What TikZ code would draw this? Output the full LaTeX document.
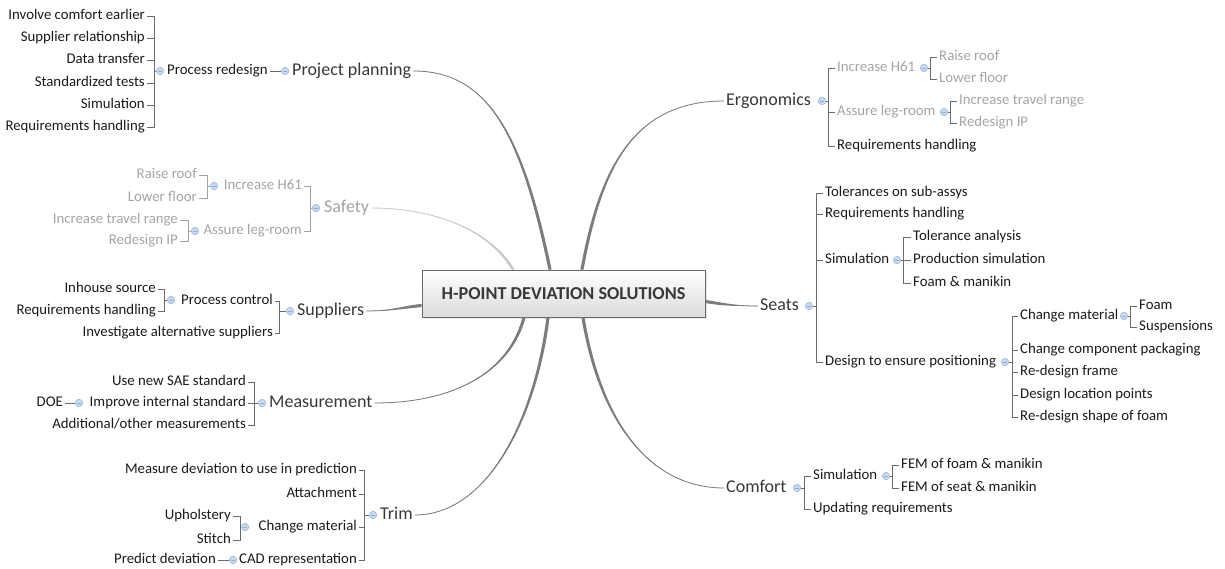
\documentclass[tikz,border=0pt]{standalone}
\usepackage{fontspec}
\setmainfont{Carlito}
\usetikzlibrary{calc,shadows}
\definecolor{ink}{HTML}{1A1A1A}
\definecolor{topicink}{HTML}{383838}
\definecolor{greyink}{HTML}{A4A4A4}
\definecolor{stem}{HTML}{7C7C7C}
\definecolor{stemgrey}{HTML}{C8C8C8}
\definecolor{brkline}{HTML}{6A6A6A}
\definecolor{foldfill}{HTML}{CADAEE}
\definecolor{foldline}{HTML}{93AED3}
\def\branch[#1](#2)(#3)(#4)(#5)(#6){\fill[#1] ($(#2)+(#6)$) .. controls +(#3) and +(#4) .. (#5) .. controls +(#4) and +(#3) .. ($(#2)-(#6)$) -- cycle; \draw[#1, line width=0.8] (#2) .. controls +(#3) and +(#4) .. (#5);}
\tikzset{
	leaf/.style={font=\fontsize{14.8}{17}\selectfont, text=ink, inner sep=2pt, text height=10pt, text depth=3.5pt},
	topic/.style={font=\fontsize{18}{21}\selectfont, text=topicink, inner sep=2pt, text height=13pt, text depth=4.5pt},
	greyed/.style={text=greyink},
	fold/.style={circle, minimum size=7.5pt, inner sep=0pt, fill=foldfill, draw=foldline, line width=0.5pt,
		path picture={\draw[foldline, line width=0.7pt] ([xshift=1.5pt]path picture bounding box.west) -- ([xshift=-1.5pt]path picture bounding box.east);}},
	brk/.style={draw=brkline, line width=0.9pt},
	brkgrey/.style={draw=greyink, line width=0.9pt},
	hubbox/.style={rectangle, minimum width=283pt, minimum height=47pt, draw=brkline, line width=1pt, top color=white, bottom color=black!14,
		font=\bfseries\fontsize{18.2}{20}\selectfont, text=topicink, drop shadow={opacity=0.2, shadow xshift=1.5pt, shadow yshift=-1.5pt}}
}

\begin{document}
\begin{tikzpicture}[x=1pt, y=-1pt]
		%%%%% START %%%%%
		\useasboundingbox (0,0) rectangle (1225,569);
		
		\node[hubbox] (hub) at (563.5,293.5) {H-POINT DEVIATION SOLUTIONS};
		
		% project planning
		\node[topic, anchor=west] (pp) at (290,71) {Project planning};
		\node[fold] (pp-m) at (285,71) {};
		\node[leaf, anchor=west] (pr) at (165,71) {Process redesign};
		\node[fold] (pr-m) at (160,71) {};
		\coordinate (pr-j) at (154,71);
		\node[leaf, anchor=east] (pr1) at (147,16) {Involve comfort earlier};
		\node[leaf, anchor=east] (pr2) at (147,38) {Supplier relationship};
		\node[leaf, anchor=east] (pr3) at (147,60) {Data transfer};
		\node[leaf, anchor=east] (pr4) at (147,83) {Standardized tests};
		\node[leaf, anchor=east] (pr5) at (147,105) {Simulation};
		\node[leaf, anchor=east] (pr6) at (147,127) {Requirements handling};
		\draw[brk] (pr1.east) -| (pr-j) (pr2.east) -| (pr-j) (pr3.east) -| (pr-j) (pr4.east) -| (pr-j) (pr5.east) -| (pr-j) (pr6.east) -| (pr-j);
		\draw[brk] (pr-j) -- (pr-m);
		\draw[brk] (pr.east) -- (pp-m);
		
		% safety
		\node[topic, greyed, anchor=west] (sf) at (322,208) {Safety};
		\node[fold] (sf-m) at (316,208) {};
		\coordinate (sf-j) at (310,208);
		\node[leaf, greyed, anchor=east] (sf1) at (304,186) {Increase H61};
		\node[leaf, greyed, anchor=east] (sf2) at (304,231) {Assure leg-room};
		\node[fold] (sh-m) at (214,186) {};
		\coordinate (sh-j) at (207,186);
		\node[leaf, greyed, anchor=east] (sh1) at (199,175) {Raise roof};
		\node[leaf, greyed, anchor=east] (sh2) at (199,198) {Lower floor};
		\node[fold] (sl-m) at (195,231) {};
		\coordinate (sl-j) at (188,231);
		\node[leaf, greyed, anchor=east] (sl1) at (180,220) {Increase travel range};
		\node[leaf, greyed, anchor=east] (sl2) at (180,241) {Redesign IP};
		\draw[brkgrey] (sf1.east) -| (sf-j) (sf2.east) -| (sf-j);
		\draw[brkgrey] (sf-j) -- (sf-m);
		\draw[brkgrey] (sh1.east) -| (sh-j) (sh2.east) -| (sh-j);
		\draw[brkgrey] (sh-j) -- (sh-m);
		\draw[brkgrey] (sl1.east) -| (sl-j) (sl2.east) -| (sl-j);
		\draw[brkgrey] (sl-j) -- (sl-m);
		
		% suppliers
		\node[topic, anchor=west] (sp) at (295,311) {Suppliers};
		\node[fold] (sp-m) at (290,311) {};
		\coordinate (sp-j) at (279,311);
		\node[leaf, anchor=east] (sp1) at (275,301) {Process control};
		\node[leaf, anchor=east] (sp2) at (275,333) {Investigate alternative suppliers};
		\node[fold] (pc-m) at (171,300) {};
		\coordinate (pc-j) at (164,300);
		\node[leaf, anchor=east] (pc1) at (158,289) {Inhouse source};
		\node[leaf, anchor=east] (pc2) at (158,311) {Requirements handling};
		\draw[brk] (sp1.east) -| (sp-j) (sp2.east) -| (sp-j);
		\draw[brk] (sp-j) -- (sp-m);
		\draw[brk] (pc1.east) -| (pc-j) (pc2.east) -| (pc-j);
		\draw[brk] (pc-j) -- (pc-m);
		
		% measurement
		\node[topic, anchor=west] (ms) at (267,403) {Measurement};
		\node[fold] (ms-m) at (262,403) {};
		\coordinate (ms-j) at (254,403);
		\node[leaf, anchor=east] (ms1) at (248,382) {Use new SAE standard};
		\node[leaf, anchor=east] (ms2) at (248,403) {Improve internal standard};
		\node[leaf, anchor=east] (ms3) at (248,425) {Additional/other measurements};
		\node[fold] (is-m) at (79,403) {};
		\node[leaf, anchor=east] (doe) at (65,403) {DOE};
		\draw[brk] (ms1.east) -| (ms-j) (ms2.east) -| (ms-j) (ms3.east) -| (ms-j);
		\draw[brk] (ms-j) -- (ms-m);
		\draw[brk] (doe.east) -- (is-m);
		
		% trim
		\node[topic, anchor=west] (tr) at (378,515) {Trim};
		\node[fold] (tr-m) at (373,515) {};
		\coordinate (tr-j) at (364,515);
		\node[leaf, anchor=east] (tr1) at (359,470) {Measure deviation to use in prediction};
		\node[leaf, anchor=east] (tr2) at (359,494) {Attachment};
		\node[leaf, anchor=east] (tr3) at (359,527) {Change material};
		\node[leaf, anchor=east] (tr4) at (359,560) {CAD representation};
		\node[fold] (tm-m) at (245,527) {};
		\coordinate (tm-j) at (240,527);
		\node[leaf, anchor=east] (tm1) at (233,516) {Upholstery};
		\node[leaf, anchor=east] (tm2) at (233,540) {Stitch};
		\node[fold] (cad-m) at (233,560) {};
		\node[leaf, anchor=east] (pd) at (218,560) {Predict deviation};
		\draw[brk] (tr1.east) -| (tr-j) (tr2.east) -| (tr-j) (tr3.east) -| (tr-j) (tr4.east) -| (tr-j);
		\draw[brk] (tr-j) -- (tr-m);
		\draw[brk] (tm1.east) -| (tm-j) (tm2.east) -| (tm-j);
		\draw[brk] (tm-j) -- (tm-m);
		\draw[brk] (pd.east) -- (cad-m);
		
		% ergonomics
		\node[topic, anchor=west] (er) at (724,101) {Ergonomics};
		\node[fold] (er-m) at (822,101) {};
		\coordinate (er-j) at (828,101);
		\node[leaf, greyed, anchor=west] (er1) at (835,68) {Increase H61};
		\node[leaf, greyed, anchor=west] (er2) at (835,112) {Assure leg-room};
		\node[leaf, anchor=west] (er3) at (835,146) {Requirements handling};
		\node[fold] (eh-m) at (924,68) {};
		\coordinate (eh-j) at (930,68);
		\node[leaf, greyed, anchor=west] (eh1) at (937,57) {Raise roof};
		\node[leaf, greyed, anchor=west] (eh2) at (937,79) {Lower floor};
		\node[fold] (el-m) at (944,112) {};
		\coordinate (el-j) at (950,112);
		\node[leaf, greyed, anchor=west] (el1) at (957,101) {Increase travel range};
		\node[leaf, greyed, anchor=west] (el2) at (957,123) {Redesign IP};
		\draw[brk] (er-m) -- (er-j);
		\draw[brk] (er-j) |- (er1.west) (er-j) |- (er2.west) (er-j) |- (er3.west);
		\draw[brk] (eh-m) -- (eh-j);
		\draw[brk] (eh-j) |- (eh1.west) (eh-j) |- (eh2.west);
		\draw[brk] (el-m) -- (el-j);
		\draw[brk] (el-j) |- (el1.west) (el-j) |- (el2.west);
		
		% seats
		\node[topic, anchor=west] (st) at (758,306) {Seats};
		\node[fold] (st-m) at (809,306) {};
		\coordinate (st-j) at (816,306);
		\node[leaf, anchor=west] (st1) at (823,193) {Tolerances on sub-assys};
		\node[leaf, anchor=west] (st2) at (823,214) {Requirements handling};
		\node[leaf, anchor=west] (st3) at (823,260) {Simulation};
		\node[leaf, anchor=west] (st4) at (823,362) {Design to ensure positioning};
		\node[fold] (ss-m) at (897,260) {};
		\coordinate (ss-j) at (903,260);
		\node[leaf, anchor=west] (ss1) at (911,237) {Tolerance analysis};
		\node[leaf, anchor=west] (ss2) at (911,260) {Production simulation};
		\node[leaf, anchor=west] (ss3) at (911,283) {Foam \& manikin};
		\node[fold] (dp-m) at (1005,362) {};
		\coordinate (dp-j) at (1012,362);
		\node[leaf, anchor=west] (dp1) at (1018,316) {Change material};
		\node[leaf, anchor=west] (dp2) at (1018,350) {Change component packaging};
		\node[leaf, anchor=west] (dp3) at (1018,372) {Re-design frame};
		\node[leaf, anchor=west] (dp4) at (1018,395) {Design location points};
		\node[leaf, anchor=west] (dp5) at (1018,417) {Re-design shape of foam};
		\node[fold] (cm-m) at (1124,316) {};
		\coordinate (cm-j) at (1130,316);
		\node[leaf, anchor=west] (cm1) at (1137,306) {Foam};
		\node[leaf, anchor=west] (cm2) at (1137,327) {Suspensions};
		\draw[brk] (st-m) -- (st-j);
		\draw[brk] (st-j) |- (st1.west) (st-j) |- (st2.west) (st-j) |- (st3.west) (st-j) |- (st4.west);
		\draw[brk] (ss-m) -- (ss-j);
		\draw[brk] (ss-j) |- (ss1.west) (ss-j) |- (ss2.west) (ss-j) |- (ss3.west);
		\draw[brk] (dp-m) -- (dp-j);
		\draw[brk] (dp-j) |- (dp1.west) (dp-j) |- (dp2.west) (dp-j) |- (dp3.west) (dp-j) |- (dp4.west) (dp-j) |- (dp5.west);
		\draw[brk] (cm-m) -- (cm-j);
		\draw[brk] (cm-j) |- (cm1.west) (cm-j) |- (cm2.west);
		
		% comfort
		\node[topic, anchor=west] (cf) at (724,488) {Comfort};
		\node[fold] (cf-m) at (797,488) {};
		\coordinate (cf-j) at (804,488);
		\node[leaf, anchor=west] (cf1) at (811,476) {Simulation};
		\node[leaf, anchor=west] (cf2) at (811,509) {Updating requirements};
		\node[fold] (cs-m) at (886,476) {};
		\coordinate (cs-j) at (892,476);
		\node[leaf, anchor=west] (cs1) at (899,465) {FEM of foam \& manikin};
		\node[leaf, anchor=west] (cs2) at (899,488) {FEM of seat \& manikin};
		\draw[brk] (cf-m) -- (cf-j);
		\draw[brk] (cf-j) |- (cf1.west) (cf-j) |- (cf2.west);
		\draw[brk] (cs-m) -- (cs-j);
		\draw[brk] (cs-j) |- (cs1.west) (cs-j) |- (cs2.west);
		
		% branches from the hub
		\coordinate (pp-s) at ($(hub.north)+(-13.5,0)$);
		\coordinate (sf-s) at ($(hub.north)+(-50.5,0)$);
		\coordinate (er-s) at ($(hub.north)+(18.5,0)$);
		\coordinate (sp-s) at ($(hub.west)+(0,12)$);
		\coordinate (st-s) at ($(hub.east)+(0,8)$);
		\coordinate (ms-s) at ($(hub.south)+(-39.5,0)$);
		\coordinate (tr-s) at ($(hub.south)+(-15.5,0)$);
		\coordinate (cf-s) at ($(hub.south)+(19.5,0)$);
		\branch[stem](pp-s)(-28,-135)(75,0)(pp.east)(1.6,0)
		\branch[stemgrey](sf-s)(-23,-39)(64,0)(sf.east)(1.6,0)
		\branch[stem](er-s)(18,-99)(-92,0)(er.west)(1.6,0)
		\branch[stem](sp-s)(-20,2)(25,0)(sp.east)(0,1.6)
		\branch[stem](st-s)(18,3)(-20,0)(st.west)(0,1.6)
		\branch[stem](ms-s)(-14,53)(82,0)(ms.east)(1.6,0)
		\branch[stem](tr-s)(-13,103)(72,0)(tr.east)(1.6,0)
		\branch[stem](cf-s)(17,103)(-75,0)(cf.west)(1.6,0)
		
		%%%%% END %%%%%
\end{tikzpicture}
\end{document}
